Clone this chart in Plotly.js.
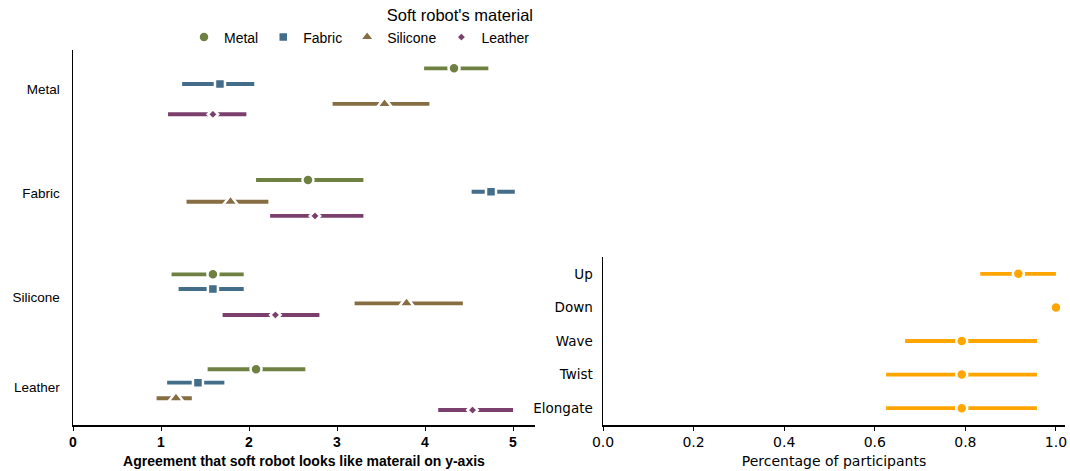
<!DOCTYPE html>
<html>
<head>
<meta charset="utf-8">
<script src="https://cdn.plot.ly/plotly-3.0.1.min.js"></script>
<style>html,body{margin:0;padding:0;background:#fff;}#chart{width:1070px;height:471px;}</style>
</head>
<body>
<div id="chart"></div>
<script>
// ---- Left panel data ----
const materials = ['Metal', 'Fabric', 'Silicone', 'Leather'];   // y-axis rows
const seriesNames = ['Metal', 'Fabric', 'Silicone', 'Leather'];  // legend (robot material)

const metalMean    = [4.33, 2.67, 1.59, 2.08];
const metalLo      = [3.99, 2.08, 1.12, 1.53];
const metalHi      = [4.72, 3.30, 1.94, 2.64];

const fabricMean   = [1.67, 4.75, 1.59, 1.42];
const fabricLo     = [1.24, 4.53, 1.20, 1.07];
const fabricHi     = [2.06, 5.02, 1.94, 1.72];

const siliconeMean = [3.54, 1.79, 3.79, 1.17];
const siliconeLo   = [2.95, 1.29, 3.20, 0.95];
const siliconeHi   = [4.05, 2.22, 4.43, 1.35];

const leatherMean  = [1.59, 2.75, 2.30, 4.54];
const leatherLo    = [1.08, 2.24, 1.70, 4.15];
const leatherHi    = [1.97, 3.30, 2.80, 5.00];

// ---- Right panel data ----
const motions   = ['Up', 'Down', 'Wave', 'Twist', 'Elongate'];
const motionPct = [0.917, 1.0, 0.792, 0.792, 0.792];
const motionLo  = [0.833, 1.0, 0.667, 0.625, 0.625];
const motionHi  = [1.0, 1.0, 0.958, 0.958, 0.958];

// ---- layout helpers (positions/styles) ----
const rowPos = [0, 1, 2, 2.865];
const dodge = {
  Metal:    [-0.199, -0.125, -0.218, -0.170],
  Fabric:   [-0.048, -0.012, -0.077, -0.041],
  Silicone: [ 0.144,  0.084,  0.061,  0.109],
  Leather:  [ 0.243,  0.221,  0.173,  0.222]
};
const colors  = {Metal: '#6f8142', Fabric: '#436d88', Silicone: '#876d42', Leather: '#7b3f6d'};
const symbols = {Metal: 'circle', Fabric: 'square', Silicone: 'triangle-up', Leather: 'diamond'};
const sizes   = {Metal: 11, Fabric: 10, Silicone: 13, Leather: 8};
const dataBy = {
  Metal:    [metalMean, metalLo, metalHi],
  Fabric:   [fabricMean, fabricLo, fabricHi],
  Silicone: [siliconeMean, siliconeLo, siliconeHi],
  Leather:  [leatherMean, leatherLo, leatherHi]
};

const traces = [];
seriesNames.forEach(name => {
  const [m, lo, hi] = dataBy[name];
  traces.push({
    type: 'scatter', mode: 'markers', name: name,
    x: m,
    y: rowPos.map((p, i) => p + dodge[name][i]),
    xaxis: 'x', yaxis: 'y',
    marker: {symbol: symbols[name], size: sizes[name], color: colors[name], line: {color: '#ffffff', width: 2.5}},
    error_x: {type: 'data', symmetric: false,
      array: m.map((v, i) => hi[i] - v), arrayminus: m.map((v, i) => v - lo[i]),
      thickness: 3.8, width: 0, color: colors[name]},
    hoverinfo: 'x+name'
  });
});

traces.push({
  type: 'scatter', mode: 'markers', name: 'motion', showlegend: false,
  x: motionPct, y: motions, xaxis: 'x2', yaxis: 'y2',
  marker: {symbol: 'circle', size: 11, color: '#ffa500', line: {color: '#ffffff', width: 2.5}},
  error_x: {type: 'data', symmetric: false,
    array: motionPct.map((v, i) => motionHi[i] - v), arrayminus: motionPct.map((v, i) => v - motionLo[i]),
    thickness: 3.8, width: 0, color: '#ffa500'}
});

const W = 1070, H = 471;
const arial = '"Liberation Sans", Arial, sans-serif';
const dejavu = '"DejaVu Sans", sans-serif';

const layout = {
  width: W, height: H,
  margin: {l: 0, r: 0, t: 0, b: 0},
  paper_bgcolor: '#fff', plot_bgcolor: '#fff',
  showlegend: true,
  legend: {
    orientation: 'h', x: 0.5, xanchor: 'right', y: 1, yanchor: 'top',
    font: {family: arial, size: 14, color: '#000'},
    title: {text: "Soft robot's material", side: 'top right', font: {family: arial, size: 16.5, color: '#000'}},
    itemwidth: 30, tracegroupgap: 0, bgcolor: 'rgba(0,0,0,0)'
  },
  xaxis: {
    domain: [73 / W, 535 / W], range: [0, 5.25], anchor: 'y',
    showgrid: false, zeroline: false, showline: true, linecolor: '#000', linewidth: 1.5,
    ticks: 'outside', ticklen: 4, tickwidth: 1, tickcolor: '#000',
    tickvals: [0, 1, 2, 3, 4, 5], ticktext: ['0', '1', '2', '3', '4', '5'],
    tickfont: {family: arial, size: 14, color: '#000', weight: 'bold'},
    title: {text: 'Agreement that soft robot looks like materail on y-axis', standoff: 7,
      font: {family: arial, size: 14, color: '#000', weight: 'bold'}}
  },
  yaxis: {
    domain: [(H - 425) / H, (H - 50) / H], range: [3.231, -0.375], anchor: 'x',
    showgrid: false, zeroline: false, showline: true, linecolor: '#000', linewidth: 1.5,
    ticks: '', tickvals: rowPos, ticktext: materials, ticklabelstandoff: 9,
    tickfont: {family: arial, size: 13.5, color: '#000'}
  },
  xaxis2: {
    domain: [603 / W, 1065 / W], range: [0, 1.02], anchor: 'y2',
    showgrid: false, zeroline: false, showline: true, linecolor: '#000', linewidth: 1.5,
    ticks: 'outside', ticklen: 4, tickwidth: 1, tickcolor: '#000',
    tickvals: [0, 0.2, 0.4, 0.6, 0.8, 1.0], ticktext: ['0.0', '0.2', '0.4', '0.6', '0.8', '1.0'],
    tickfont: {family: dejavu, size: 14, color: '#000'},
    title: {text: 'Percentage of participants', standoff: 7, font: {family: dejavu, size: 14, color: '#000'}}
  },
  yaxis2: {
    domain: [(H - 425) / H, (H - 257) / H], range: [4.5, -0.5], anchor: 'x2', type: 'category',
    categoryorder: 'array', categoryarray: motions,
    showgrid: false, zeroline: false, showline: true, linecolor: '#000', linewidth: 1.5,
    ticks: '', ticklabelstandoff: 6,
    tickfont: {family: dejavu, size: 13.5, color: '#000'}
  }
};

Plotly.newPlot('chart', traces, layout, {displayModeBar: false, staticPlot: true});
</script>
</body>
</html>
